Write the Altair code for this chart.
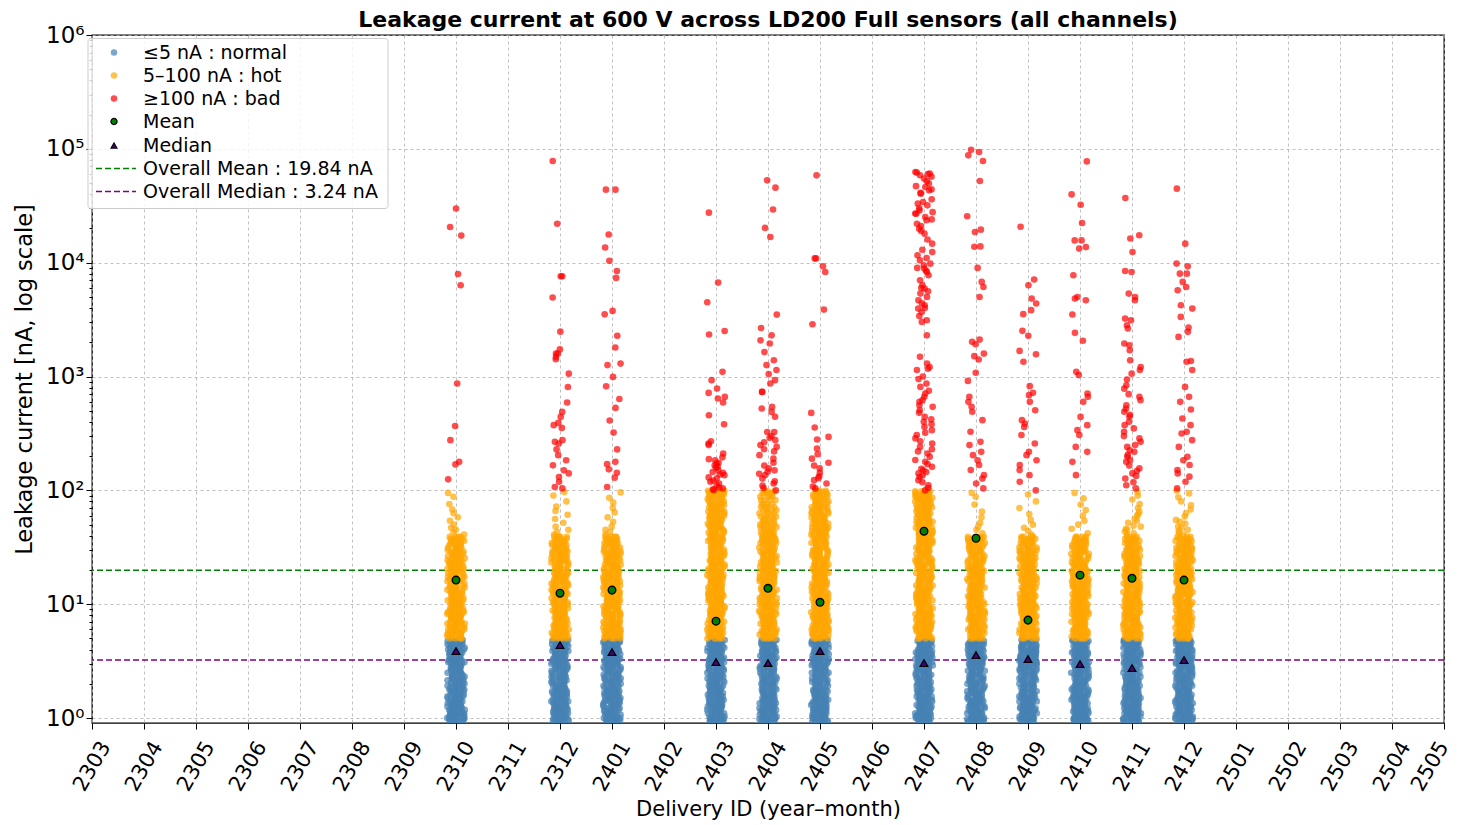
import altair as alt
import pandas as pd

FONT = "DejaVu Sans"
TITLE = "Leakage current at 600 V across LD200 Full sensors (all channels)"

CATEGORIES = ["2303", "2304", "2305", "2306", "2307", "2308", "2309", "2310", "2311", "2312",
              "2401", "2402", "2403", "2404", "2405", "2406", "2407", "2408", "2409", "2410",
              "2411", "2412", "2501", "2502", "2503", "2504", "2505"]

DELIVERIES = ["2310", "2312", "2401", "2403", "2404", "2405", "2407", "2408", "2409", "2410", "2411", "2412"]

# dense bands (estimated, nA) shared by every delivery
NORMAL_BAND = [0.92, 0.95, 0.98, 1.0, 1.03, 1.07, 1.1, 1.14, 1.18, 1.22, 1.26, 1.3, 1.35, 1.4, 1.45,
               1.5, 1.55, 1.6, 1.66, 1.72, 1.78, 1.85, 1.92, 2.0, 2.07, 2.15, 2.23, 2.31, 2.4, 2.5,
               2.6, 2.7, 2.8, 2.9, 3.0, 3.1, 3.2, 3.3, 3.4, 3.52, 3.64, 3.76, 3.88, 4.0, 4.15, 4.3,
               4.45, 4.6, 4.75, 4.85]
HOT_BAND = [5.0, 5.2, 5.4, 5.6, 5.8, 6.0, 6.25, 6.5, 6.75, 7.0, 7.3, 7.6, 7.9, 8.2, 8.5, 8.8, 9.2,
            9.6, 10.0, 10.4, 10.8, 11.3, 11.8, 12.3, 12.8, 13.4, 14.0, 14.6, 15.2, 15.9, 16.6, 17.3,
            18.0, 18.8, 19.6, 20.5, 21.4, 22.3, 23.3, 24.3, 25.4, 26.5, 27.7, 29.0, 30.0, 31.5,
            33.0, 34.5, 36.0, 37.5, 39.0]

HOT_UPPER = {
    "2310": [41, 43, 45, 47, 50, 54, 58, 63, 68, 76, 88, 95],
    "2312": [41, 43, 45, 48, 52, 56, 61, 66, 72, 80, 90, 97],
    "2401": [41, 43, 45, 48, 53, 58, 64, 70, 78, 86, 96],
    "2403": [41, 42.5, 44, 45.5, 47, 49, 51, 53, 55, 57.5, 60, 62.5, 65, 68, 71, 74, 77, 80, 84, 88,
             92, 96, 99],
    "2404": [41, 43, 45, 47.5, 50, 53, 56, 59, 63, 67, 71, 76, 82, 88, 94, 98],
    "2405": [41, 42.5, 44, 45.5, 47, 49, 51, 53, 55, 57.5, 60, 62.5, 65, 68, 71, 74, 77, 80, 84, 88,
             92, 96, 99],
    "2407": [41, 42.5, 44, 45.5, 47, 49, 51, 53, 55, 57.5, 60, 62.5, 65, 68, 71, 74, 77, 80, 83, 86,
             89, 92, 95, 98],
    "2408": [42, 45, 48, 52, 58, 65, 75, 88, 95],
    "2409": [41, 44, 47, 50, 55, 62, 70, 80, 92],
    "2410": [42, 46, 50, 54, 60, 67, 75, 85, 95],
    "2411": [41, 42, 43.5, 45, 46, 48, 49, 52, 54, 56, 60, 62, 65, 70, 76, 83, 90, 97],
    "2412": [41, 42.5, 44, 45, 47, 48, 51, 53, 55, 59, 63, 68, 74, 80, 87, 94, 99],
}
# deliveries whose 40-100 nA range is packed solid
DENSE_TOP = ["2403", "2404", "2405", "2407"]

BAD = {
    "2310": [29900, 20600, 17300, 7960, 6340, 868, 368, 276, 178, 169, 125],
    "2312": [78200, 22000, 7600, 7600, 4940, 2480, 1730, 1590, 1590, 1490, 1420, 1060, 810, 592, 489,
             442, 392, 374, 354, 276, 267, 258, 229, 204, 184, 166, 150, 141, 131, 119, 107, 104],
    "2401": [43800, 43800, 17700, 13600, 10400, 8450, 7350, 3770, 3520, 2280, 1800, 1300, 1260, 993,
             822, 635, 530, 411, 322, 229, 178, 170, 153, 143, 129, 107],
    "2403": [27500, 6690, 4490, 2510, 2340, 1100, 929, 785, 718, 662, 641, 592, 457, 381, 270, 258, 250,
             211, 195, 188, 184, 175, 172, 165, 161, 158, 150, 145, 143, 138, 136, 130, 127, 122, 119,
             115, 111, 106, 104, 102, 101],
    "2404": [52900, 45600, 29300, 20200, 16800, 3500, 2670, 2300, 2080, 1950, 1640, 1390, 1260, 1140,
             1050, 929, 869, 733, 733, 541, 524, 489, 443, 326, 326, 300, 290, 276, 265, 250, 241, 230,
             220, 204, 190, 175, 165, 156, 150, 146, 140, 136, 127, 120, 115, 110, 105, 100],
    "2405": [58500, 10900, 10900, 9300, 8280, 3870, 2880, 479, 357, 295, 280, 233, 208, 190, 175, 165,
             156, 143, 133, 128, 123, 115, 108, 104],
    "2407": [62600, 62000, 60600, 60000, 58600, 57000, 54800, 52000, 49500, 47000, 46200, 44000, 43200,
             41000, 40400, 36000, 34100, 33000, 31900, 30000, 28800, 27800, 27000, 26900, 25200, 24000,
             23600, 22000, 21000, 19900, 19000, 18000, 16000, 14700, 13000, 12400, 11600, 11000, 10500,
             9800, 9490, 9000, 8870, 8500, 8290, 7750, 7000, 6330, 6000, 5920, 5600, 5350, 5000, 4680,
             4400, 4230, 4000, 3950, 3690, 3400, 3120, 3020, 2300, 1490, 1300, 1210, 1170, 1140, 1000,
             950, 867, 811, 750, 709, 663, 620, 599, 560, 542, 506, 480, 442, 420, 400, 380, 361, 338,
             320, 306, 286, 270, 258, 241, 230, 220, 211, 197, 185, 178, 170, 161, 155, 150, 145, 141,
             135, 131, 123, 118, 111, 105, 100],
    "2408": [98000, 93800, 87700, 78200, 52200, 25600, 19500, 18600, 13900, 13800, 9000, 6780, 6120,
             5000, 2110, 2020, 1920, 1590, 1510, 1410, 1080, 915, 663, 599, 542, 490, 414, 327, 267,
             250, 218, 204, 184, 167, 151, 136, 127, 115, 104],
    "2409": [20700, 7120, 6340, 4840, 4380, 3830, 3530, 2520, 2280, 1680, 1570, 1350, 823, 719, 686,
             599, 506, 414, 387, 361, 306, 258, 218, 204, 184, 167, 151, 136, 119, 100],
    "2410": [77600, 39800, 32300, 22300, 15700, 15700, 13700, 13300, 7750, 5000, 4840, 4680, 3510, 2420,
             2060, 1100, 1030, 710, 663, 599, 442, 374, 338, 306, 241, 218, 178, 136],
    "2411": [37000, 17400, 16300, 12400, 8450, 8280, 5350, 5000, 4680, 3230, 3120, 2820, 2640, 1950,
             1880, 1700, 1390, 1210, 1140, 1060, 940, 838, 783, 700, 663, 620, 560, 520, 490, 460, 443,
             400, 374, 350, 327, 300, 286, 267, 250, 241, 225, 218, 205, 197, 185, 178, 165, 156, 148,
             141, 134, 127, 118, 111, 104],
    "2412": [44700, 14700, 9820, 9290, 8010, 8010, 6780, 6120, 5720, 4230, 3950, 3340, 2690, 2470, 2230,
             1370, 1350, 1140, 811, 663, 599, 513, 428, 374, 327, 316, 276, 241, 197, 184, 167, 151,
             141, 132, 119, 104],
}

MEANS = [16.3, 12.5, 13.3, 7.1, 13.8, 10.4, 43.8, 38.0, 7.25, 18.0, 16.9, 16.3]
MEDIANS = [3.88, 4.37, 3.80, 3.10, 3.04, 3.88, 3.04, 3.57, 3.30, 2.98, 2.75, 3.23]
OVERALL_MEAN = 19.84
OVERALL_MEDIAN = 3.24

TIER_COLORS = {"normal": "#4682b4", "hot": "#ffa500", "bad": "#ff0000"}
MEAN_COLOR = "#008000"
MEDIAN_COLOR = "#800080"
MEDIAN_FILL = "#4b0082"

rows = []
LANES = (-1.5, -0.5, 0.5, 1.5)


def add(d, tier, vals, packed):
    pos = CATEGORIES.index(d)
    for v in vals:
        if packed:
            for lane in LANES:
                rows.append({"pos": pos, "value": v, "color": TIER_COLORS[tier],
                             "lane": lane, "spread": 0.1})
        else:
            rows.append({"pos": pos, "value": v, "color": TIER_COLORS[tier],
                         "lane": 0, "spread": 0.34})


for d in DELIVERIES:
    add(d, "normal", NORMAL_BAND, True)
for d in DELIVERIES:
    add(d, "hot", HOT_BAND, True)
    add(d, "hot", HOT_UPPER[d], d in DENSE_TOP)
for d in DELIVERIES:
    add(d, "bad", BAD[d], False)
points_df = pd.DataFrame(rows)

stats_df = pd.DataFrame({
    "xj": [CATEGORIES.index(d) for d in DELIVERIES],
    "mean": MEANS,
    "median": MEDIANS,
})
lines_df = pd.DataFrame({"value": [OVERALL_MEAN, OVERALL_MEDIAN], "color": [MEAN_COLOR, MEDIAN_COLOR]})

W, H = 1352, 688

MAJOR = "abs(log(datum.value)/LN10 - round(log(datum.value)/LN10)) < 0.000001"
YTICKS = []
for k in range(0, 6):
    for m in range(1, 10):
        YTICKS.append(m * 10 ** k)
YTICKS.append(10 ** 6)

x_scale = alt.Scale(domain=[0, len(CATEGORIES) - 1], nice=False, zero=False)
y_scale = alt.Scale(type="log", domain=[0.905, 1e6], nice=False)

x_axis = alt.Axis(
    values=list(range(len(CATEGORIES))),
    labelExpr="%s[datum.value]" % str(CATEGORIES).replace(" ", ""),
    labelAngle=-60, labelAlign="center", labelBaseline="middle", labelPadding=37,
    labelOverlap=False, labelBound=False,
    labelOffset={"condition": {"test": "datum.value == %d" % (len(CATEGORIES) - 1), "value": -14}, "value": 0},
    labelFontSize=21, tickSize=6, title="Delivery ID (year\u2013month)", titleFontSize=21,
    titlePadding=4, grid=True,
)
y_axis = alt.Axis(
    values=YTICKS,
    labelExpr=MAJOR + " ? '10' + ['\u2070','\u00b9','\u00b2','\u00b3','\u2074','\u2075','\u2076'][round(log(datum.value)/LN10)] : ''",
    tickSize={"condition": {"test": MAJOR, "value": 6}, "value": 3},
    gridOpacity={"condition": {"test": MAJOR, "value": 1}, "value": 0},
    labelOverlap=False,
    labelFontSize=23, labelPadding=2, title="Leakage current [nA, log scale]", titleFontSize=22.5,
    titlePadding=9, grid=True,
)

X = alt.X("xj:Q", scale=x_scale, axis=x_axis)
Y = alt.Y("value:Q", scale=y_scale, axis=y_axis)

lines = alt.Chart(lines_df).mark_rule(strokeDash=[6, 3], strokeWidth=1.5).encode(
    y=Y,
    color=alt.Color("color:N", scale=None),
)

points = alt.Chart(points_df).transform_window(
    idx="row_number()"
).transform_calculate(
    jit="(abs(sin(datum.idx * 12.9898) * 43758.5453)) % 1",
).transform_calculate(
    xj="datum.pos + datum.lane * 0.08 + (datum.jit - 0.5) * datum.spread"
).mark_circle(size=44, opacity=0.7, clip=True).encode(
    x=X, y=Y,
    color=alt.Color("color:N", scale=None),
)

means = alt.Chart(stats_df).transform_calculate(value="datum.mean").mark_point(
    shape="circle", filled=True, fill=MEAN_COLOR, stroke="black", strokeWidth=1.4, size=58, opacity=1
).encode(x=X, y=Y)

medians = alt.Chart(stats_df).transform_calculate(value="datum.median").mark_point(
    shape="triangle-up", filled=True, fill=MEDIAN_FILL, stroke="black", strokeWidth=1.3, size=58, opacity=1
).encode(x=X, y=Y)

title_layer = alt.Chart(pd.DataFrame({"t": [TITLE]})).mark_text(
    align="center", baseline="middle", font=FONT, fontSize=22, fontWeight="bold", color="black"
).encode(x=alt.value(W / 2), y=alt.value(-15), text="t:N")

# legend (drawn manually in the top-left corner)
LEG_ROWS = [17.5, 40.5, 63.5, 86.5, 110.5, 133.5, 156.5]
one = pd.DataFrame({"t": [0]})

legend_layers = [
    alt.Chart(one).mark_rect(fill="white", fillOpacity=0.8, stroke="#cccccc", strokeWidth=1,
                             cornerRadius=3).encode(
        x=alt.value(-4), x2=alt.value(296), y=alt.value(3.5), y2=alt.value(173.5))
]


def leg_text(label, y):
    return alt.Chart(pd.DataFrame({"t": [label]})).mark_text(
        align="left", baseline="middle", font=FONT, fontSize=19, color="black"
    ).encode(x=alt.value(51), y=alt.value(y), text="t:N")


def leg_point(y, shape, fill, stroke=None, size=42, opacity=0.7):
    kw = dict(shape=shape, filled=True, fill=fill, size=size, opacity=opacity)
    if stroke:
        kw.update(stroke=stroke, strokeWidth=1.2)
    else:
        kw.update(strokeWidth=0)
    return alt.Chart(one).mark_point(**kw).encode(x=alt.value(22), y=alt.value(y))


def leg_line(y, color):
    return alt.Chart(one).mark_rule(strokeDash=[6, 3], strokeWidth=1.5, color=color).encode(
        x=alt.value(4), x2=alt.value(44), y=alt.value(y))


LEG_LABELS = ["\u22645 nA : normal", "5\u2013100 nA : hot", "\u2265100 nA : bad", "Mean", "Median",
              "Overall Mean : %.2f nA" % OVERALL_MEAN, "Overall Median : %.2f nA" % OVERALL_MEDIAN]

legend_layers += [
    leg_point(LEG_ROWS[0], "circle", TIER_COLORS["normal"]),
    leg_point(LEG_ROWS[1], "circle", TIER_COLORS["hot"]),
    leg_point(LEG_ROWS[2], "circle", TIER_COLORS["bad"]),
    leg_point(LEG_ROWS[3], "circle", MEAN_COLOR, stroke="black", size=38, opacity=1),
    leg_point(LEG_ROWS[4], "triangle-up", MEDIAN_FILL, stroke="black", size=34, opacity=1),
    leg_line(LEG_ROWS[5], MEAN_COLOR),
    leg_line(LEG_ROWS[6], MEDIAN_COLOR),
]
legend_layers += [leg_text(lbl, y) for lbl, y in zip(LEG_LABELS, LEG_ROWS)]

chart = alt.layer(lines, points, means, medians, title_layer, *legend_layers).properties(
    width=W, height=H,
    autosize=alt.AutoSizeParams(type="none"),
    padding={"left": 84, "top": 27, "right": 11, "bottom": 100},
).configure_view(
    stroke="black", strokeWidth=1.3
).configure_axis(
    labelFont=FONT, titleFont=FONT, labelColor="black", titleColor="black", titleFontWeight="normal",
    tickColor="black", tickWidth=1, domain=False,
    gridColor="#b0b0b0", gridDash=[3, 3], gridWidth=0.8,
)

chart.save("out.html", embed_options={"renderer": "svg", "actions": False})
